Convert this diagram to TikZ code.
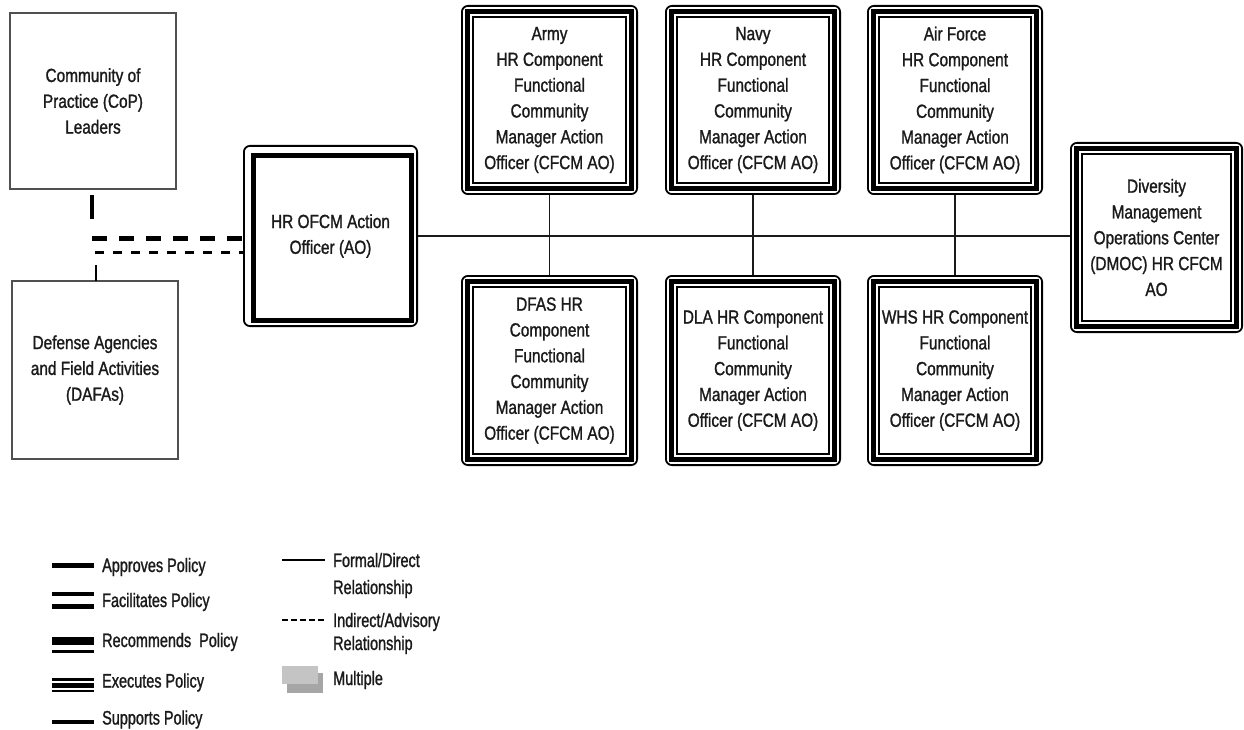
\documentclass[tikz,border=0pt]{standalone}
\usepackage{fontspec}
\setmainfont{Liberation Sans}[FakeStretch=0.81,FakeBold=1.2]
\newfontfamily\legfont{Liberation Sans}[FakeStretch=0.74,FakeBold=1.2]
\usetikzlibrary{calc}
\definecolor{txt}{HTML}{1A1A1A}
\definecolor{plainedge}{HTML}{505050}
\definecolor{multA}{HTML}{C4C4C4}
\definecolor{multB}{HTML}{A6A6A6}
\newcommand\triframe[1]{%
  \draw[line width=1.8pt, rounded corners=6pt] ($(#1.north west)+(0.9,0.9)$) rectangle ($(#1.south east)+(-0.9,-0.9)$);
  \draw[line width=5pt] ($(#1.north west)+(6.5,6.5)$) rectangle ($(#1.south east)+(-6.5,-6.5)$);
  \draw[line width=1.8pt] ($(#1.north west)+(12,12)$) rectangle ($(#1.south east)+(-12,-12)$);}
\newcommand\dualframe[1]{%
  \draw[line width=1.8pt, rounded corners=6pt] ($(#1.north west)+(0.9,0.9)$) rectangle ($(#1.south east)+(-0.9,-0.9)$);
  \draw[line width=5.5pt] ($(#1.north west)+(10.5,10.5)$) rectangle ($(#1.south east)+(-6.5,-6.5)$);}
\tikzset{
  cbox/.style={rectangle, inner sep=0pt, outer sep=0pt, align=center, text=txt,
    font=\fontsize{19}{25.8}\selectfont},
  plainbox/.style={cbox, draw=plainedge, line width=2.4pt},
  link/.style={draw=txt, line width=1.6pt},
  thickdash/.style={draw=black, line width=5pt, dash pattern=on 15pt off 12pt},
  thindash/.style={draw=black, line width=3pt, dash pattern=on 9pt off 9pt},
  leg/.style={anchor=base west, text=txt, inner sep=0pt, font=\legfont\fontsize{19.5}{22}\selectfont},
  legbar/.style={fill=black, draw=none},
}
\begin{document}
\begin{tikzpicture}[x=1pt,y=-1pt]
\useasboundingbox (0,0) rectangle (1244,730);
\fill[white] (0,0) rectangle (1244,730);

% plain boxes
\node[plainbox, minimum width=166, minimum height=176] (cop) at (93,101) {Community of\\Practice (CoP)\\Leaders};
\node[plainbox, minimum width=166, minimum height=178] (dafa) at (95,370) {Defense Agencies\\and Field Activities\\(DAFAs)};

% framed boxes
\node[cbox, minimum width=175, minimum height=182] (hr) at (330.5,236) {HR OFCM Action\\Officer (AO)};
\node[cbox, minimum width=177, minimum height=190] (army) at (549.5,100) {Army\\HR Component\\Functional\\Community\\Manager Action\\Officer (CFCM AO)};
\node[cbox, minimum width=176, minimum height=190] (navy) at (753,100) {Navy\\HR Component\\Functional\\Community\\Manager Action\\Officer (CFCM AO)};
\node[cbox, minimum width=176, minimum height=190] (af) at (955,100) {Air Force\\HR Component\\Functional\\Community\\Manager Action\\Officer (CFCM AO)};
\node[cbox, minimum width=177, minimum height=191] (dfas) at (549.5,370.5) {DFAS HR\\Component\\Functional\\Community\\Manager Action\\Officer (CFCM AO)};
\node[cbox, minimum width=176, minimum height=191] (dla) at (753,370.5) {DLA HR Component\\Functional\\Community\\Manager Action\\Officer (CFCM AO)};
\node[cbox, minimum width=176, minimum height=191] (whs) at (955,370.5) {WHS HR Component\\Functional\\Community\\Manager Action\\Officer (CFCM AO)};
\node[cbox, minimum width=173, minimum height=191] (dmoc) at (1156.5,237.5) {Diversity\\Management\\Operations Center\\(DMOC) HR CFCM\\AO};

\dualframe{hr}
\triframe{army}\triframe{navy}\triframe{af}
\triframe{dfas}\triframe{dla}\triframe{whs}
\triframe{dmoc}

% connectors
\draw[link] (hr.east) -- (hr.east -| dmoc.west);
\draw[link] (army.south) -- (dfas.north);
\draw[link] (navy.south) -- (dla.north);
\draw[link] (af.south) -- (whs.north);

\coordinate (jc) at (92,238);
\coordinate (jd) at (96,252);
\draw[draw=black, line width=4.5pt, dash pattern=on 24pt off 25pt, dash phase=43pt] (cop.south -| jc) -- (jc);
\draw[thickdash] (jc) -- (jc -| hr.west);
\draw[draw=black, line width=2.6pt, dash pattern=on 16pt off 20pt] (dafa.north -| jd) -- (jd);
\draw[thindash] ([xshift=-1pt]jd) -- (jd -| hr.west);

% legend, left column
\fill[legbar] (52,563) rectangle (94,568);
\fill[legbar] (52,592) rectangle (94,596);
\fill[legbar] (52,604) rectangle (94,608.5);
\fill[legbar] (52,637) rectangle (94,645);
\fill[legbar] (52,650) rectangle (94,652.5);
\fill[legbar] (52,678.3) rectangle (94,681);
\fill[legbar] (52,683) rectangle (94,687.7);
\fill[legbar] (52,689.5) rectangle (94,692.3);
\fill[legbar] (52,720) rectangle (94,723.5);
\node[leg] (lapp) at (102,572) {Approves Policy};
\node[leg] (lfac) at (102,607) {Facilitates Policy};
\node[leg] (lrec) at (102,647) {Recommends\ \ Policy};
\node[leg] (lexe) at (102,687.5) {Executes Policy};
\node[leg] (lsup) at (102,724.5) {Supports Policy};

% legend, right column
\draw[draw=black, line width=1.6pt] (282,560) -- (325,560);
\draw[draw=black, line width=1.6pt, dash pattern=on 5.7pt off 3.3pt] (282,620) -- (325,620);
\fill[multB] (287,673) rectangle (323,693);
\fill[multA] (282,666) rectangle (318,684);
\node[leg] (lfor) at (333,567) {Formal/Direct};
\node[leg] (lfor2) at (333,594) {Relationship};
\node[leg] (lind) at (333,627) {Indirect/Advisory};
\node[leg] (lind2) at (333,650) {Relationship};
\node[leg] (lmul) at (333,685) {Multiple};
\end{tikzpicture}
\end{document}
